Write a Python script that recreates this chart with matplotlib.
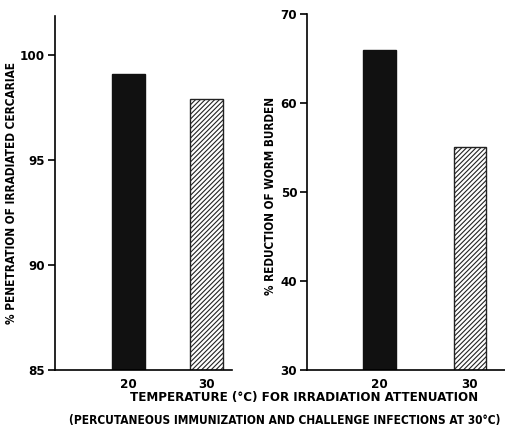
import matplotlib
matplotlib.use("Agg")
import matplotlib.pyplot as plt

# temperatures used for irradiation attenuation
temps = ["20", "30"]
# % penetration of irradiated cercariae
penetration = [99.1, 97.9]
# % reduction of worm burden
reduction = [66.0, 55.0]

plt.rcParams['font.family'] = ['DejaVu Sans']
plt.rcParams['font.stretch'] = 'condensed'
plt.rcParams['font.weight'] = 'bold'
plt.rcParams['axes.labelweight'] = 'bold'
plt.rcParams['hatch.linewidth'] = 0.8
plt.rcParams['hatch.color'] = '#222222'

fig = plt.figure(figsize=(5.06, 4.33), dpi=100)

ax1 = fig.add_axes([0.1087, 0.1455, 0.3498, 0.8175])
ax2 = fig.add_axes([0.6067, 0.1455, 0.3933, 0.8222])

def style(ax):
    for s in ["top", "right"]:
        ax.spines[s].set_visible(False)
    for s in ["left", "bottom"]:
        ax.spines[s].set_linewidth(1.2)
    ax.tick_params(axis="y", direction="out", length=5, width=1.2, labelsize=9.5, pad=2)
    ax.tick_params(axis="x", length=0, labelsize=9.5, pad=6)

pos = [0, 1]

# left panel: penetration
ax1.bar(pos[0], penetration[0], width=0.42, color="#111111", edgecolor="#111111")
ax1.bar(pos[1], penetration[1], width=0.42, color="white", edgecolor="#222222",
        hatch="///////", linewidth=1.0)
ax1.set_ylim(85, 101.86)
ax1.set_xlim(-0.942, 1.327)
ax1.set_yticks([85, 90, 95, 100])
ax1.set_xticks(pos)
ax1.set_xticklabels(temps)
ax1.set_ylabel("% PENETRATION OF IRRADIATED CERCARIAE", fontsize=8.5)
ax1.yaxis.set_label_coords(-0.21, 0.5)
style(ax1)

# right panel: worm burden reduction
ax2.bar(pos[0], reduction[0], width=0.36, color="#111111", edgecolor="#111111")
ax2.bar(pos[1], reduction[1], width=0.36, color="white", edgecolor="#222222",
        hatch="///////", linewidth=1.0)
ax2.set_ylim(30, 70)
ax2.set_xlim(-0.80, 1.399)
ax2.set_yticks([30, 40, 50, 60, 70])
ax2.set_xticks(pos)
ax2.set_xticklabels(temps)
ax2.set_ylabel("% REDUCTION OF WORM BURDEN", fontsize=8.4)
ax2.yaxis.set_label_coords(-0.15, 0.49)
style(ax2)

fig.text(0.601, 0.083, "TEMPERATURE (°C) FOR IRRADIATION ATTENUATION",
         ha="center", va="center", fontsize=9.5)
fig.text(0.563, 0.030, "(PERCUTANEOUS IMMUNIZATION AND CHALLENGE INFECTIONS AT 30°C)",
         ha="center", va="center", fontsize=8.6)

fig.savefig("out.png", dpi=100)
